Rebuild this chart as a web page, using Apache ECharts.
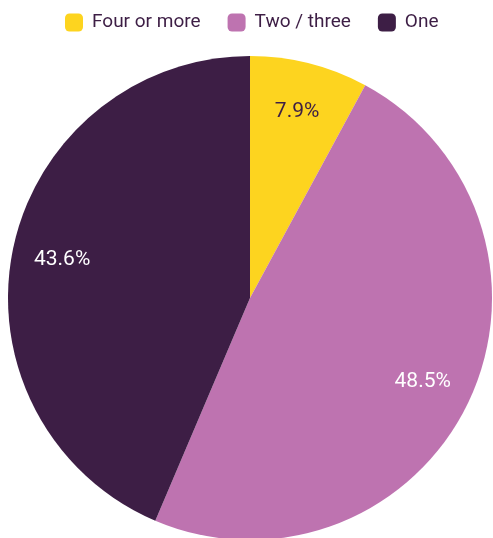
<!DOCTYPE html>
<html>
<head>
<meta charset="utf-8">
<script src="https://cdn.jsdelivr.net/npm/echarts@6/dist/echarts.min.js"></script>
<style>
  html, body { margin: 0; padding: 0; background: #ffffff; }
  #chart { width: 493px; height: 538px; }
</style>
</head>
<body>
<div id="chart"></div>
<script>
// Household share by number of members
const categories = ['Four or more', 'Two / three', 'One'];
const shares = [7.9, 48.5, 43.6];
const sliceColors = ['#FDD41F', '#BE73B0', '#3D1E45'];
const labelColors = ['#3D1E45', '#ffffff', '#ffffff'];

const chart = echarts.init(document.getElementById('chart'));

const center = [250, 298];
const outer = 242;

chart.setOption({
  animation: false,
  legend: {
    data: categories,
    top: 8,
    left: 60,
    icon: 'roundRect',
    itemWidth: 18,
    itemHeight: 18,
    itemGap: 27,
    textStyle: {
      fontFamily: 'Roboto',
      fontSize: 19,
      color: '#3D1E45',
      padding: [0, 0, 0, 4]
    }
  },
  series: [
    {
      type: 'pie',
      center: center,
      radius: [0, outer],
      startAngle: 90,
      clockwise: true,
      label: { show: false },
      labelLine: { show: false },
      itemStyle: { borderWidth: 0 },
      data: categories.map((c, i) => ({ name: c, value: shares[i], itemStyle: { color: sliceColors[i] } }))
    },
    {
      // label-only ring so the percentages sit toward the outer edge
      type: 'pie',
      silent: true,
      center: center,
      radius: [outer * 0.56, outer],
      startAngle: 90,
      clockwise: true,
      itemStyle: { color: 'rgba(0,0,0,0)', borderWidth: 0 },
      labelLine: { show: false },
      label: {
        show: true,
        position: 'inside',
        fontFamily: 'Roboto',
        fontSize: 21
      },
      data: shares.map((v, i) => ({
        value: v,
        label: { color: labelColors[i], formatter: v.toFixed(1) + '%' }
      }))
    }
  ]
});
</script>
</body>
</html>
